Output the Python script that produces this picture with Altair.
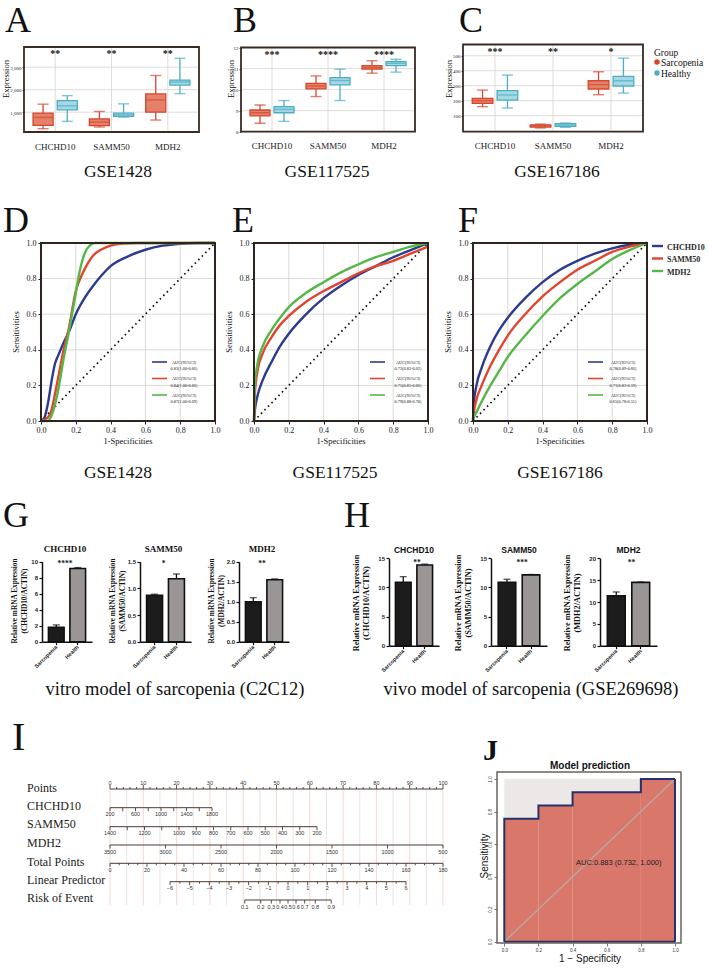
import altair as alt
import pandas as pd

W, H = 708, 973
SERIF = "Liberation Serif"
SANS = "Liberation Sans"
INK = "#111111"

GENES = ["CHCHD10", "SAMM50", "MDH2"]
GROUPS = ["Sarcopenia", "Healthy"]

# ---------------- A: GSE1428 (min, q1, median, q3, max) ----------------
A_SARC_MIN = [265, 340, 650]
A_SARC_Q1 = [410, 400, 1000]
A_SARC_MED = [765, 560, 1545]
A_SARC_Q3 = [955, 705, 1810]
A_SARC_MAX = [1355, 1030, 2630]
A_HEAL_MIN = [590, 780, 1825]
A_HEAL_Q1 = [1105, 810, 2205]
A_HEAL_MED = [1280, 880, 2340]
A_HEAL_Q3 = [1515, 955, 2425]
A_HEAL_MAX = [1735, 1370, 3395]
A_STARS = ["**", "**", "**"]
A_TICKS = [1000, 2000, 3000]
A_DOMAIN = [118, 3897]

# ---------------- B: GSE117525 ----------------
B_SARC_MIN = [8.40, 9.67, 10.78]
B_SARC_Q1 = [8.75, 10.03, 10.97]
B_SARC_MED = [8.90, 10.17, 11.05]
B_SARC_Q3 = [9.03, 10.30, 11.14]
B_SARC_MAX = [9.27, 10.65, 11.37]
B_HEAL_MIN = [8.49, 9.48, 10.83]
B_HEAL_Q1 = [8.90, 10.22, 11.14]
B_HEAL_MED = [9.06, 10.43, 11.25]
B_HEAL_Q3 = [9.19, 10.57, 11.33]
B_HEAL_MAX = [9.48, 10.97, 11.44]
B_STARS = ["***", "****", "****"]
B_TICKS = [8, 9, 10, 11, 12]
B_DOMAIN = [8, 12]

# ---------------- C: GSE167186 ----------------
C_SARC_MIN = [160, 18, 240]
C_SARC_Q1 = [182, 24, 278]
C_SARC_MED = [200, 31, 307]
C_SARC_Q3 = [216, 39, 333]
C_SARC_MAX = [271, 44, 393]
C_HEAL_MIN = [151, 22, 251]
C_HEAL_Q1 = [204, 28, 298]
C_HEAL_MED = [238, 38, 333]
C_HEAL_Q3 = [267, 47, 362]
C_HEAL_MAX = [371, 51, 484]
C_STARS = ["***", "**", "*"]
C_TICKS = [100, 200, 300, 400, 500]
C_DOMAIN = [-7, 575]

# ---------------- D/E/F: ROC curves ----------------
ROC_TICKS = [0.0, 0.2, 0.4, 0.6, 0.8, 1.0]
D_FPR_CHCHD10 = [0, 0.02, 0.04, 0.06, 0.08, 0.10, 0.13, 0.16, 0.20, 0.25, 0.30, 0.35, 0.40, 0.50, 0.60, 0.70, 0.80, 0.90, 1.00]
D_TPR_CHCHD10 = [0, 0.02, 0.10, 0.22, 0.32, 0.37, 0.44, 0.50, 0.60, 0.69, 0.76, 0.82, 0.87, 0.925, 0.962, 0.985, 0.996, 1.0, 1.0]
D_FPR_SAMM50 = [0, 0.04, 0.06, 0.08, 0.10, 0.13, 0.16, 0.20, 0.23, 0.26, 0.30, 0.35, 0.40, 0.47, 0.55, 1.00]
D_TPR_SAMM50 = [0, 0.02, 0.06, 0.15, 0.25, 0.40, 0.52, 0.73, 0.81, 0.87, 0.93, 0.965, 0.985, 0.997, 1.0, 1.0]
D_FPR_MDH2 = [0, 0.04, 0.06, 0.08, 0.10, 0.13, 0.16, 0.20, 0.22, 0.24, 0.26, 0.28, 0.31, 0.35, 1.00]
D_TPR_MDH2 = [0, 0.0, 0.03, 0.09, 0.18, 0.35, 0.50, 0.72, 0.83, 0.91, 0.96, 0.985, 1.0, 1.0, 1.0]

E_FPR = [0, 0.005, 0.02, 0.05, 0.10, 0.15, 0.20, 0.30, 0.40, 0.50, 0.60, 0.70, 0.80, 0.90, 1.00]
E_TPR_CHCHD10 = [0, 0.06, 0.14, 0.23, 0.33, 0.42, 0.49, 0.60, 0.69, 0.76, 0.82, 0.87, 0.92, 0.96, 1.0]
E_TPR_SAMM50 = [0, 0.15, 0.28, 0.38, 0.47, 0.54, 0.59, 0.67, 0.73, 0.78, 0.83, 0.87, 0.90, 0.94, 0.98]
E_TPR_MDH2 = [0, 0.20, 0.32, 0.42, 0.51, 0.58, 0.64, 0.72, 0.78, 0.835, 0.88, 0.92, 0.95, 0.98, 1.0]

F_FPR = [0, 0.005, 0.02, 0.05, 0.10, 0.15, 0.20, 0.30, 0.40, 0.50, 0.60, 0.70, 0.80, 0.90, 1.00]
F_TPR_CHCHD10 = [0, 0.10, 0.20, 0.30, 0.42, 0.51, 0.58, 0.69, 0.78, 0.85, 0.90, 0.94, 0.97, 0.99, 1.0]
F_TPR_SAMM50 = [0, 0.05, 0.12, 0.20, 0.31, 0.40, 0.48, 0.60, 0.70, 0.78, 0.85, 0.90, 0.95, 0.98, 1.0]
F_TPR_MDH2 = [0, 0.02, 0.05, 0.11, 0.20, 0.28, 0.36, 0.48, 0.59, 0.69, 0.77, 0.84, 0.91, 0.96, 1.0]

D_AUC = ["0.83(1.00-0.66)", "0.84(1.00-0.66)", "0.87(1.00-0.69)"]
E_AUC = ["0.72(0.82-0.62)", "0.75(0.85-0.66)", "0.79(0.88-0.70)"]
F_AUC = ["0.78(0.89-0.66)", "0.71(0.83-0.59)", "0.65(0.78-0.51)"]

# ---------------- G/H: qPCR bars (mean, error) ----------------
BAR_GROUPS = ["Sarcopenia", "Health"]
G_SARC = [1.80, 0.87, 1.00]
G_SARC_ERR = [0.30, 0.02, 0.10]
G_HEAL = [9.15, 1.18, 1.55]
G_HEAL_ERR = [0.12, 0.09, 0.02]
G_STARS = ["****", "*", "**"]
G_YMAX = [10, 1.5, 2.0]
G_YTICKS = [[0, 2, 4, 6, 8, 10], [0, 0.5, 1.0, 1.5], [0, 0.5, 1.0, 1.5, 2.0]]
H_SARC = [10.9, 10.9, 11.4]
H_SARC_ERR = [0.95, 0.50, 0.90]
H_HEAL = [13.85, 12.15, 14.5]
H_HEAL_ERR = [0.15, 0.08, 0.08]
H_STARS = ["**", "***", "**"]
H_YMAX = [15, 15, 20]
H_YTICKS = [[0, 5, 10, 15], [0, 5, 10, 15], [0, 5, 10, 15, 20]]

# ---------------- I: nomogram scales ----------------
NOMO_NAMES = ["Points", "CHCHD10", "SAMM50", "MDH2", "Total Points", "Linear Predictor", "Risk of Event"]
PTS_MAJOR = [0, 10, 20, 30, 40, 50, 60, 70, 80, 90, 100]
PTS_MINOR = [v for v in range(0, 101, 2) if v % 10]
PTS_GRID_10 = [0, 10, 20, 30, 40, 50, 60, 70, 80, 90, 100]
PTS_GRID_5 = [5, 15, 25, 35, 45, 55, 65, 75, 85, 95]
CHC_TICKS = [200, 400, 600, 800, 1000, 1200, 1400, 1600, 1800]
CHC_LABELS = [200, 600, 1000, 1400, 1800]
SAM_TICKS = [1400, 1300, 1200, 1100, 1000, 900, 800, 700, 600, 500, 400, 300, 200]
SAM_LABELS = [1400, 1200, 1000, 900, 800, 700, 600, 500, 400, 300, 200]
MDH_TICKS = [3500, 3000, 2500, 2000, 1500, 1000, 500]
TOT_MAJOR = [0, 20, 40, 60, 80, 100, 120, 140, 160, 180]
TOT_MINOR = [v for v in range(0, 181, 5) if v % 20]
LP_MAJOR = [-6, -5, -4, -3, -2, -1, 0, 1, 2, 3, 4, 5, 6]
LP_MINOR = [v + 0.5 for v in range(-6, 6)]
RISK_TICKS = [0.1, 0.2, 0.3, 0.4, 0.5, 0.6, 0.7, 0.8, 0.9]

# ---------------- J: model ROC ----------------
J_FPR = [0.0, 0.0, 0.2, 0.4, 0.8, 1.0]
J_TPR = [0.0, 0.755, 0.837, 0.918, 1.0, 1.0]
J_DIAG = [0.0, 1.0]

# ---------------- styles ----------------
GRID_C = "#d9d3d0"
RED_F, RED_S = "#e5806a", "#d4482d"
BLU_F, BLU_S = "#a6d8e3", "#4aaec5"
FRAME_C = "#3a2a22"
ROC_COLORS = ["#2c3b8f", "#e2442e", "#55b747"]
BAR_DARK, BAR_GRAY = "#1c1c1c", "#9b9696"

L = []


def add(c):
    L.append(c)


def one():
    return pd.DataFrame({"k": [0]})


def txt(s, x, y, size, font=SERIF, weight="normal", align="center", angle=0,
        color="#111111", baseline="alphabetic"):
    kw = dict(font=font, fontSize=size, fontWeight=weight, align=align,
              color=color, baseline=baseline)
    if angle:
        kw["angle"] = angle
    add(alt.Chart(pd.DataFrame({"t": [s]})).mark_text(**kw).encode(
        x=alt.value(x), y=alt.value(y), text=alt.Text("t:N")))


def frame(x0, x1, y0, y1, color=FRAME_C, width=1.8):
    add(alt.Chart(one()).mark_rect(fillOpacity=0, stroke=color, strokeWidth=width).encode(
        x=alt.value(x0), x2=alt.value(x1), y=alt.value(y0), y2=alt.value(y1)))


def hline(x0, x1, y, color, width):
    add(alt.Chart(one()).mark_rule(color=color, strokeWidth=width).encode(
        x=alt.value(x0), x2=alt.value(x1), y=alt.value(y)))


def axis(orient, pos, **kw):
    if orient == "left":
        off = -pos
    else:
        off = pos - H
    base = dict(orient=orient, offset=off, grid=False, title=None, labelFlush=False)
    base.update(kw)
    return alt.Axis(**base)


def lin(dom, rng):
    return alt.Scale(domain=dom, range=rng, nice=False, zero=False)


# ======================= Row 1: box plots =======================
def box_df(smin, sq1, smed, sq3, smax, hmin, hq1, hmed, hq3, hmax):
    rows = []
    for i, g in enumerate(GENES):
        rows.append({"gene": g, "grp": "Sarcopenia", "lo": smin[i], "q1": sq1[i],
                     "med": smed[i], "q3": sq3[i], "hi": smax[i]})
        rows.append({"gene": g, "grp": "Healthy", "lo": hmin[i], "q1": hq1[i],
                     "med": hmed[i], "q3": hq3[i], "hi": hmax[i]})
    return pd.DataFrame(rows)


def box_panel(df, stars, ticks, fmt, x0, x1, ytop, ybot, dom):
    xs = alt.Scale(domain=GENES, range=[x0 + 3, x1 - 3], paddingInner=0, paddingOuter=0)
    xo = alt.Scale(domain=GROUPS, paddingInner=0.17, paddingOuter=0.25)
    ys = lin(dom, [ybot, ytop])
    yax = axis("left", x0, values=ticks, format=fmt, labelFont=SERIF, labelFontSize=5,
               labelColor="#222222", tickSize=2, tickColor="#333333", tickWidth=0.8,
               labelPadding=1, domain=False)
    xax = axis("bottom", ybot, labelFont=SERIF, labelFontSize=9, labelColor="#222222",
               ticks=False, domain=False, labelPadding=10, labelAngle=0)
    add(alt.Chart(pd.DataFrame({"v": ticks})).mark_rule(color=GRID_C, strokeWidth=0.8).encode(
        y=alt.Y("v:Q", scale=ys, axis=yax), x=alt.value(x0), x2=alt.value(x1)))
    add(alt.Chart(pd.DataFrame({"gene": GENES})).mark_rule(color=GRID_C, strokeWidth=0.8).encode(
        x=alt.X("gene:N", scale=xs, axis=xax), y=alt.value(ytop), y2=alt.value(ybot)))
    for grp, fill, stroke in [("Sarcopenia", RED_F, RED_S), ("Healthy", BLU_F, BLU_S)]:
        d = df[df["grp"] == grp]

        def enc():
            return dict(x=alt.X("gene:N", scale=xs, axis=None),
                        xOffset=alt.XOffset("grp:N", scale=xo))
        add(alt.Chart(d).mark_rule(color=stroke, strokeWidth=1.3).encode(
            y=alt.Y("lo:Q", scale=ys, axis=None), y2="hi:Q", **enc()))
        add(alt.Chart(d).mark_bar(fill=fill, stroke=stroke, strokeWidth=1.3).encode(
            y=alt.Y("q1:Q", scale=ys, axis=None), y2="q3:Q", **enc()))
        add(alt.Chart(d).mark_tick(orient="horizontal", color=stroke, size=19, thickness=1.4).encode(
            y=alt.Y("med:Q", scale=ys, axis=None), **enc()))
        add(alt.Chart(d).transform_fold(["lo", "hi"], as_=["k", "cap"]).mark_tick(
            orient="horizontal", color=stroke, size=11, thickness=1.4).encode(
            y=alt.Y("cap:Q", scale=ys, axis=None), **enc()))
    add(alt.Chart(pd.DataFrame({"gene": GENES, "s": stars})).mark_text(
        font=SERIF, fontSize=10, fontWeight="bold", color=INK, baseline="alphabetic").encode(
        x=alt.X("gene:N", scale=xs, axis=None), y=alt.value(ytop + 10), text="s:N"))
    frame(x0, x1, ytop, ybot)


box_panel(box_df(A_SARC_MIN, A_SARC_Q1, A_SARC_MED, A_SARC_Q3, A_SARC_MAX,
                 A_HEAL_MIN, A_HEAL_Q1, A_HEAL_MED, A_HEAL_Q3, A_HEAL_MAX),
          A_STARS, A_TICKS, ",d", 24, 199, 47, 132, A_DOMAIN)
box_panel(box_df(B_SARC_MIN, B_SARC_Q1, B_SARC_MED, B_SARC_Q3, B_SARC_MAX,
                 B_HEAL_MIN, B_HEAL_Q1, B_HEAL_MED, B_HEAL_Q3, B_HEAL_MAX),
          B_STARS, B_TICKS, "d", 241, 415, 47.5, 131.7, B_DOMAIN)
box_panel(box_df(C_SARC_MIN, C_SARC_Q1, C_SARC_MED, C_SARC_Q3, C_SARC_MAX,
                 C_HEAL_MIN, C_HEAL_Q1, C_HEAL_MED, C_HEAL_Q3, C_HEAL_MAX),
          C_STARS, C_TICKS, "d", 463, 643, 44.5, 131.7, C_DOMAIN)

for x in (6, 231, 449):
    txt("Expression", x, 79, 8.5, angle=270, baseline="middle")
txt("A", 5, 32, 36, align="left")
txt("B", 233, 32, 36, align="left")
txt("C", 459, 32, 36, align="left")
txt("GSE1428", 118, 177, 17.5)
txt("GSE117525", 327, 177, 17.5)
txt("GSE167186", 557, 177, 17.5)

# legend of C
txt("Group", 654, 56, 9.5, align="left")
for i, (g, c) in enumerate(zip(GROUPS, [RED_S, BLU_S])):
    add(alt.Chart(one()).mark_point(filled=True, size=30, color=c, opacity=1).encode(
        x=alt.value(657), y=alt.value(62 + 11 * i)))
    txt(g, 661, 65.5 + 11 * i, 9.5, align="left")


# ======================= Row 2: ROC curves =======================
def roc_panel(x0, x1, curves, aucs, leg_x0, text_cx):
    ytop, ybot = 243, 421
    xs = lin([0, 1], [x0, x1])
    ys = lin([0, 1], [ybot, ytop])
    tick_style = dict(values=ROC_TICKS, format=".1f", labelFont=SERIF, labelFontSize=8,
                      labelColor="#222222", tickSize=3, tickColor="#222222", tickWidth=1,
                      labelPadding=2, domain=False)
    add(alt.Chart(pd.DataFrame({"v": ROC_TICKS})).mark_rule(color="#d3cfcf", strokeWidth=0.8).encode(
        x=alt.X("v:Q", scale=xs, axis=axis("bottom", ybot, **tick_style)),
        y=alt.value(ytop), y2=alt.value(ybot)))
    add(alt.Chart(pd.DataFrame({"v": ROC_TICKS})).mark_rule(color="#d3cfcf", strokeWidth=0.8).encode(
        y=alt.Y("v:Q", scale=ys, axis=axis("left", x0, **tick_style)),
        x=alt.value(x0), x2=alt.value(x1)))
    add(alt.Chart(pd.DataFrame({"d": [0, 1]})).mark_line(
        color=INK, strokeWidth=1.7, strokeDash=[1.6, 3.4]).encode(
        x=alt.X("d:Q", scale=xs, axis=None), y=alt.Y("d:Q", scale=ys, axis=None)))
    for (fpr, tpr), col in zip(curves, ROC_COLORS):
        add(alt.Chart(pd.DataFrame({"fpr": fpr, "tpr": tpr})).mark_line(
            color=col, strokeWidth=2.4, interpolate="monotone").encode(
            x=alt.X("fpr:Q", scale=xs, axis=None), y=alt.Y("tpr:Q", scale=ys, axis=None)))
    for i, (col, val) in enumerate(zip(ROC_COLORS, aucs)):
        yy = 362 + 16.5 * i
        hline(leg_x0, leg_x0 + 15, yy, col, 1.6)
        txt("AUC(95%CI)", text_cx, yy + 1.8, 4.3)
        txt(val, text_cx, yy + 8.2, 4.3)
    frame(x0, x1, ytop, ybot, "#2d2420", 2)
    txt("Sensitivities", x0 - 25, (ytop + ybot) / 2, 8.5, angle=270, baseline="middle")
    txt("1-Specificities", (x0 + x1) / 2, 444, 8.5)


roc_panel(41, 215, [(D_FPR_CHCHD10, D_TPR_CHCHD10), (D_FPR_SAMM50, D_TPR_SAMM50),
                    (D_FPR_MDH2, D_TPR_MDH2)], D_AUC, 152, 184)
roc_panel(254, 428, [(E_FPR, E_TPR_CHCHD10), (E_FPR, E_TPR_SAMM50), (E_FPR, E_TPR_MDH2)],
          E_AUC, 370, 408)
roc_panel(473, 647, [(F_FPR, F_TPR_CHCHD10), (F_FPR, F_TPR_SAMM50), (F_FPR, F_TPR_MDH2)],
          F_AUC, 588, 623)

for i, (g, c) in enumerate(zip(GENES, ROC_COLORS)):
    hline(652, 663, 246 + 12.5 * i, c, 2.4)
    txt(g, 667, 249.5 + 12.5 * i, 8, weight="bold", align="left", color="#2a2a2a")

txt("D", 3, 232, 36, align="left")
txt("E", 232, 232, 36, align="left")
txt("F", 458, 232, 36, align="left")
txt("GSE1428", 118, 478, 17.5)
txt("GSE117525", 335, 478, 17.5)
txt("GSE167186", 560, 478, 17.5)


# ======================= Row 3: bar charts =======================
def bar_panel(x0, x1, ytop, ybot, ymax, yticks, fmt, vals, errs):
    xs = alt.Scale(domain=BAR_GROUPS, range=[x0, x1], paddingInner=0.27, paddingOuter=0.3)
    ys = lin([0, ymax], [ybot, ytop])
    d = pd.DataFrame({"g": BAR_GROUPS, "v": vals, "e": errs})
    yax = axis("left", x0, values=yticks, format=fmt, labelFont=SANS, labelFontSize=6,
               labelFontWeight="bold", labelColor="#222222", tickSize=3, tickColor=INK,
               tickWidth=1.2, domainColor=INK, domainWidth=1.5, labelPadding=1.5, zindex=1)
    xax = axis("bottom", ybot, labelFont=SANS, labelFontSize=5.5, labelFontWeight="bold",
               labelColor="#222222", labelAngle=315, labelAlign="right", labelBaseline="middle",
               tickSize=3, tickColor=INK, tickWidth=1.2, domainColor=INK, domainWidth=1.5,
               labelPadding=1, zindex=1)
    add(alt.Chart(d).mark_bar(stroke=INK, strokeWidth=1.6).encode(
        x=alt.X("g:N", scale=xs, axis=xax), y=alt.Y("v:Q", scale=ys, axis=yax),
        color=alt.Color("g:N", scale=alt.Scale(domain=BAR_GROUPS, range=[BAR_DARK, BAR_GRAY]),
                        legend=None)))
    eb = alt.Chart(d).transform_calculate(hi="datum.v + datum.e")
    add(eb.mark_rule(color=INK, strokeWidth=1.3).encode(
        x=alt.X("g:N", scale=xs, axis=None), y=alt.Y("v:Q", scale=ys, axis=None), y2="hi:Q"))
    add(eb.mark_tick(orient="horizontal", color=INK, size=7, thickness=1.3).encode(
        x=alt.X("g:N", scale=xs, axis=None), y=alt.Y("hi:Q", scale=ys, axis=None)))


G_X = [(42, 92), (140, 191), (239, 289)]
H_X = [(389, 439), (491, 547), (600, 657)]
G_FMT = ["d", ".1f", ".1f"]
for i, g in enumerate(GENES):
    x0, x1 = G_X[i]
    bar_panel(x0, x1, 561.7, 641.7, G_YMAX[i], G_YTICKS[i], G_FMT[i],
              [G_SARC[i], G_HEAL[i]], [G_SARC_ERR[i], G_HEAL_ERR[i]])
    cx = (x0 + x1) / 2 - 2
    txt(g, cx, 551.5, 9, weight="bold")
    txt(G_STARS[i], cx, 566, 7.5, weight="bold")
    txt("Relative mRNA Expression", x0 - 27, 601, 7.3, weight="bold", angle=270, baseline="middle")
    txt("(" + g + "/ACTIN)", x0 - 17, 601, 7.3, weight="bold", angle=270, baseline="middle")

for i, g in enumerate(GENES):
    x0, x1 = H_X[i]
    bar_panel(x0, x1, 558.3, 645.7, H_YMAX[i], H_YTICKS[i], "d",
              [H_SARC[i], H_HEAL[i]], [H_SARC_ERR[i], H_HEAL_ERR[i]])
    cx = (x0 + x1) / 2
    txt(g, cx, 552.5, 8.5, font=SANS, weight="bold")
    txt(H_STARS[i], cx + 3, 565, 7.5, weight="bold")
    txt("Relative mRNA Expression", x0 - 32, 603, 8.3, weight="bold", angle=270, baseline="middle")
    txt("(" + g + "/ACTIN)", x0 - 22, 603, 8.3, weight="bold", angle=270, baseline="middle")

txt("G", 3, 527, 36, align="left")
txt("H", 344, 527, 36, align="left")
txt("vitro model of sarcopenia (C2C12)", 175, 695, 18.5)
txt("vivo model of sarcopenia (GSE269698)", 531, 695, 18.5)

# ======================= Row 4 left: nomogram =======================
PTS_SC = lin([0, 100], [110, 443])
LP_SC = lin([-6, 6], [170, 406])
NOMO_INK = "#4a3a32"

for vals, col in [(PTS_GRID_5, "#dedada"), (PTS_GRID_10, "#f2c6c0")]:
    add(alt.Chart(pd.DataFrame({"v": vals})).mark_rule(color=col, strokeWidth=0.7).encode(
        x=alt.X("v:Q", scale=PTS_SC, axis=None), y=alt.value(789), y2=alt.value(905)))


def nomo_row(line_y, scale, ticks, labels, fmt, minor=None, up=False, logit=False):
    field = "p:Q" if logit else "v:Q"

    def src(vals):
        c = alt.Chart(pd.DataFrame({"v": vals}))
        if logit:
            c = c.transform_calculate(p="log(datum.v / (1 - datum.v))")
        return c

    ends = src([ticks[0], ticks[-1]])
    add(ends.mark_line(color=NOMO_INK, strokeWidth=1).encode(
        x=alt.X(field, scale=scale, axis=None), y=alt.value(line_y)))
    dy = -4 if up else 3.5
    add(src(ticks).mark_rule(color=NOMO_INK, strokeWidth=0.9).encode(
        x=alt.X(field, scale=scale, axis=None), y=alt.value(line_y), y2=alt.value(line_y + dy)))
    if minor:
        add(src(minor).mark_rule(color=NOMO_INK, strokeWidth=0.9).encode(
            x=alt.X(field, scale=scale, axis=None), y=alt.value(line_y),
            y2=alt.value(line_y + (-2 if up else 2))))
    ly = line_y - 4.5 if up else line_y + 8.5
    add(src(labels).mark_text(font=SANS, fontSize=5.5, color="#333333", baseline="alphabetic").encode(
        x=alt.X(field, scale=scale, axis=None), y=alt.value(ly), text=alt.Text("v:Q", format=fmt)))


nomo_row(789, PTS_SC, PTS_MAJOR, PTS_MAJOR, "d", minor=PTS_MINOR, up=True)
nomo_row(807.7, lin([200, 1800], [110, 212]), CHC_TICKS, CHC_LABELS, "d")
nomo_row(826.7, lin([1400, 200], [110, 317]), SAM_TICKS, SAM_LABELS, "d")
nomo_row(845, lin([3500, 500], [110, 443]), MDH_TICKS, MDH_TICKS, "d")
nomo_row(863.3, lin([0, 180], [110, 443]), TOT_MAJOR, TOT_MAJOR, "d", minor=TOT_MINOR)
nomo_row(881.7, LP_SC, LP_MAJOR, LP_MAJOR, "d", minor=LP_MINOR)
nomo_row(900, LP_SC, RISK_TICKS, RISK_TICKS, ".1f", logit=True)

for name, yy in zip(NOMO_NAMES, [792, 810, 827.5, 847, 866, 884, 902]):
    txt(name, 27, yy, 12, align="left", color="#222222")
txt("I", 12, 750, 40, align="left")

# ======================= Row 4 right: model ROC =======================
JX = lin([0, 1], [504.3, 675])
JY = lin([0, 1], [941.7, 779])
add(alt.Chart(one()).mark_rect(color="#ece8e8").encode(
    x=alt.XDatum(0.0, scale=JX, axis=None), x2=alt.X2Datum(1.0),
    y=alt.YDatum(0.0, scale=JY, axis=None), y2=alt.Y2Datum(1.0)))
jdf = pd.DataFrame({"fpr": J_FPR, "tpr": J_TPR, "i": list(range(len(J_FPR)))})
add(alt.Chart(jdf).mark_area(color="#d9776b", opacity=1, interpolate="step-after").encode(
    x=alt.X("fpr:Q", scale=JX, axis=None), y=alt.Y("tpr:Q", scale=JY, axis=None), order="i:Q"))
add(alt.Chart(pd.DataFrame({"d": J_DIAG})).mark_line(color="#bba79d", strokeWidth=1.5).encode(
    x=alt.X("d:Q", scale=JX, axis=None), y=alt.Y("d:Q", scale=JY, axis=None)))
add(alt.Chart(jdf).mark_line(color="#28306a", strokeWidth=2, interpolate="step-after").encode(
    x=alt.X("fpr:Q", scale=JX, axis=None), y=alt.Y("tpr:Q", scale=JY, axis=None), order="i:Q"))
add(alt.Chart(one()).mark_rule(color="#28306a", strokeWidth=2).encode(
    x=alt.XDatum(0.0, scale=JX, axis=None), x2=alt.X2Datum(1.0),
    y=alt.YDatum(0.0, scale=JY, axis=None)))
add(alt.Chart(one()).mark_rule(color="#28306a", strokeWidth=2).encode(
    x=alt.XDatum(1.0, scale=JX, axis=None),
    y=alt.YDatum(0.0, scale=JY, axis=None), y2=alt.Y2Datum(1.0)))
jt = dict(values=ROC_TICKS, format=".1f", labelFont=SANS, labelFontSize=4.5, labelColor="#333333",
          tickSize=3, tickColor="#555555", tickWidth=0.8, labelPadding=1.5, domain=False)
add(alt.Chart(pd.DataFrame({"v": ROC_TICKS})).mark_point(opacity=0).encode(
    x=alt.X("v:Q", scale=JX, axis=axis("bottom", 943, **jt)), y=alt.value(943)))
add(alt.Chart(pd.DataFrame({"v": ROC_TICKS})).mark_point(opacity=0).encode(
    y=alt.Y("v:Q", scale=JY, axis=axis("left", 497, labelAngle=270, labelBaseline="bottom",
                                       labelAlign="center", **jt)), x=alt.value(497)))
frame(497, 681, 772, 943, "#6b625e", 1.5)
txt("AUC:0.883 (0.732, 1.000)", 576, 865, 7.5, font=SANS, align="left", color="#222222")
txt("Model prediction", 590, 769, 10, font=SANS, weight="bold")
txt("1 \u2212 Specificity", 590, 962, 10, font=SANS)
txt("Sensitivity", 485, 856, 10, font=SANS, angle=270, baseline="middle")
txt("J", 483, 760, 30, weight="bold", align="left")

chart = alt.layer(*L).properties(
    width=W, height=H, autosize=alt.AutoSizeParams(type="none"), padding=0, background="white"
).resolve_scale(
    x="independent", y="independent", color="independent", xOffset="independent"
).resolve_axis(x="independent", y="independent").configure_view(strokeWidth=0)

chart.save("out.html", embed_options={"renderer": "svg", "actions": False})
